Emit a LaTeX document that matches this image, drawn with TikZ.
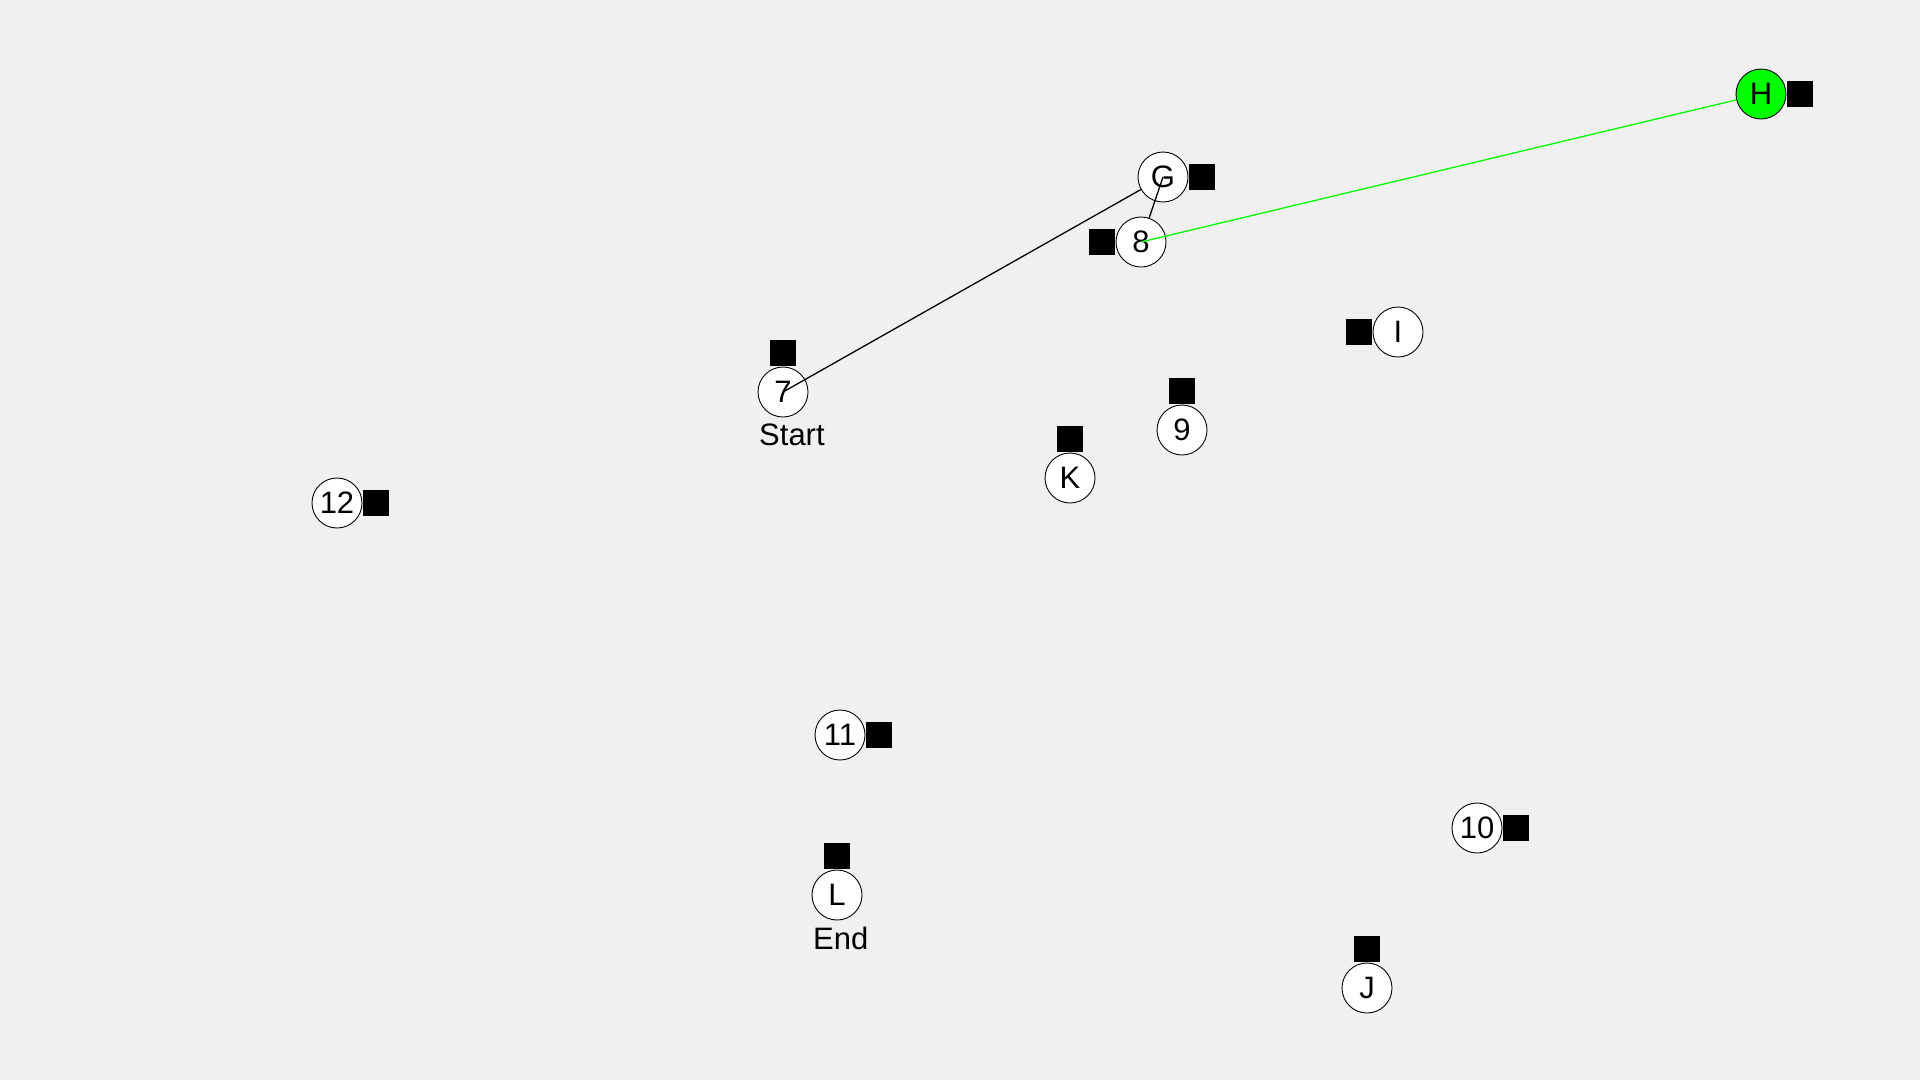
\documentclass[tikz,border=0pt]{standalone}
\usepackage{fontspec}
\setmainfont{Liberation Sans}
\definecolor{bg}{HTML}{F0F0F0}
\definecolor{pathgreen}{HTML}{00FF00}
\tikzset{
  vtx/.style={circle, draw=black, line width=0.9pt, fill=white, minimum size=50pt, inner sep=0pt,
    font=\fontsize{31}{37}\selectfont},
  sq/.style={fill=black, minimum size=26pt, inner sep=0pt},
  lbl/.style={anchor=base west, inner sep=0pt, font=\fontsize{31}{37}\selectfont},
  edgeline/.style={line width=1.3pt, draw=black},
  greenline/.style={line width=1.3pt, draw=pathgreen}
}
\begin{document}
\begin{tikzpicture}[x=1pt,y=-1pt]
\fill[bg] (0,0) rectangle (1920,1080);
\useasboundingbox (0,0) rectangle (1920,1080);

% nodes
\node[vtx] (n7) at (783,392) {7};
\node[vtx] (nG) at (1163,177) {G};
\node[vtx] (n8) at (1141,242) {8};
\node[vtx, fill=pathgreen] (nH) at (1761,94) {H};
\node[vtx] (nI) at (1398,332) {I};
\node[vtx] (n9) at (1182,430) {9};
\node[vtx] (nK) at (1070,478) {K};
\node[vtx] (n12) at (337,503) {12};
\node[vtx] (n11) at (840,735) {11};
\node[vtx] (n10) at (1477,828) {10};
\node[vtx] (nL) at (837,895) {L};
\node[vtx] (nJ) at (1367,988) {J};

% squares
\node[sq, anchor=south] (s7) at (n7.north) {};
\node[sq, anchor=west] (sG) at (nG.east) {};
\node[sq, anchor=east] (s8) at (n8.west) {};
\node[sq, anchor=west] (sH) at (nH.east) {};
\node[sq, anchor=east] (sI) at (nI.west) {};
\node[sq, anchor=south] (s9) at (n9.north) {};
\node[sq, anchor=south] (sK) at (nK.north) {};
\node[sq, anchor=west] (s12) at (n12.east) {};
\node[sq, anchor=west] (s11) at (n11.east) {};
\node[sq, anchor=west] (s10) at (n10.east) {};
\node[sq, anchor=south] (sL) at (nL.north) {};
\node[sq, anchor=south] (sJ) at (nJ.north) {};

% labels
\node[lbl] (lstart) at ([xshift=-24pt,yshift=-53pt]n7.center) {Start};
\node[lbl] (lend) at ([xshift=-24pt,yshift=-54pt]nL.center) {End};

% path
\draw[edgeline] (n7.center) -- (nG);
\draw[edgeline] (nG.center) -- (n8);
\draw[greenline] (n8.center) -- (nH);
\end{tikzpicture}
\end{document}
